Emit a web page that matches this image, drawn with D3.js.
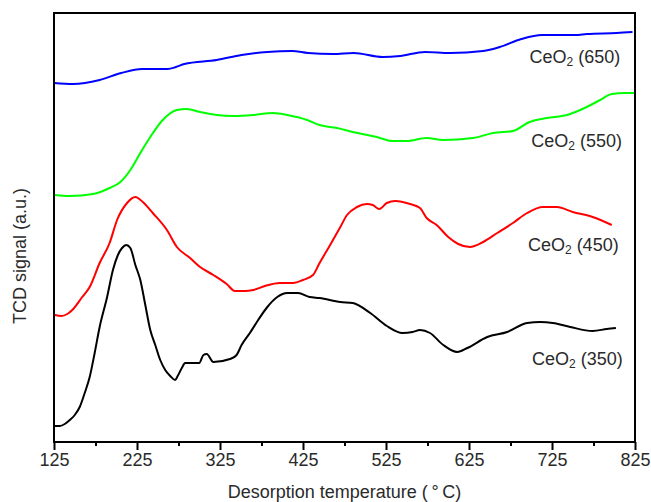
<!DOCTYPE html>
<html>
<head>
<meta charset="utf-8">
<script src="https://cdn.jsdelivr.net/npm/d3@7"></script>
<style>
  html, body { margin: 0; padding: 0; background: #fff; }
  svg { display: block; font-family: "Liberation Sans", Arial, sans-serif; }
</style>
</head>
<body>
<svg id="chart" width="651" height="502"></svg>
<script>
// TPD profiles: [temperature (°C), TCD signal (a.u.)]
const ceo2_350 = [
  [126,16],[132,16],[138,18],[144,22],[150,27],[156,35],[162,49],[168,65],[174,89],
  [180,115],[189,145],[196,172],[202,187],[207,194],[212,197],[217,194],[223,177],
  [229,162],[235,137],[241,112],[247,97],[253,82],[259,72],[265,66],[271,62],[274,66],
  [279,74],[283,79],[300,79],[305,87],[309,88],[317,80],[337,83],[345,87],
  [351,97],[361,109],[371,122],[382,135],[394,145],[406,149],[419,149],[433,145],
  [445,144],[470,140],[485,139],[506,129],[526,116],[545,109],[557,110],[566,112],
  [578,109],[594,97],[611,90],[623,94],[647,105],[671,110],[695,119],[711,120],
  [726,119],[747,115],[774,111],[791,113],[802,114]
];
const ceo2_450 = [
  [126,127],[134,126],[141,128],[147,132],[159,145],[168,155],[180,179],[192,199],[201,222],
  [213,239],[223,245],[232,240],[244,229],[261,212],[273,195],[289,184],[301,175],
  [317,167],[333,158],[343,151],[355,151],[365,152],[379,156],[397,159],[413,159],
  [425,162],[437,167],[445,179],[457,196],[470,215],[478,227],[490,235],[502,238],
  [509,237],[517,233],[526,239],[536,241],[554,238],[566,234],[574,224],[586,217],
  [600,205],[612,198],[626,195],[642,200],[659,209],[678,219],[695,229],[714,235],
  [731,235],[750,230],[774,225],[797,217]
];
const ceo2_550 = [
  [126,247],[144,246],[172,248],[192,254],[205,260],[217,272],[229,289],[241,305],
  [256,322],[273,332],[285,333],[301,330],[321,327],[341,326],[365,327],[389,329],
  [406,327],[430,322],[445,317],[466,314],[485,310],[514,305],[533,301],[550,301],
  [574,304],[594,302],[630,304],[654,309],[678,311],[698,320],[719,324],[743,327],
  [759,332],[783,342],[797,348],[813,349],[826,349]
];
const ceo2_650 = [
  [125,359],[148,358],[180,362],[206,369],[231,373],[262,373],[272,375],[282,378],[321,382],
  [351,387],[382,390],[412,391],[431,389],[461,388],[486,389],[521,385],[542,386],
  [572,390],[602,389],[642,391],[662,395],[688,403],[713,407],[753,407],[767,408],
  [803,409],[822,410]
];

const seriesNames = ["350", "450", "550", "650"];
const seriesData = [ceo2_350, ceo2_450, ceo2_550, ceo2_650];
const seriesColors = ["#000000", "#ff0000", "#00ff00", "#0000ff"];
// label anchor for each curve: [temperature, signal]
const labelAnchors = [[701, 77], [696, 191], [700, 295], [698, 379]];

const majorTicks = [125, 225, 325, 425, 525, 625, 725, 825];
const minorTicks = [175, 275, 375, 475, 575, 675, 775];

const margin = { left: 54, right: 16, top: 13, bottom: 60 };
const W = 651, H = 502;
const svg = d3.select("#chart");

const x = d3.scaleLinear().domain([125, 825]).range([margin.left, W - margin.right]);
const y = d3.scaleLinear().domain([0, 429]).range([H - margin.bottom, margin.top]);

const textColor = "#2a2a2a";
const fontSize = "18px";

// minor ticks
svg.append("g")
  .attr("transform", `translate(0,${H - margin.bottom})`)
  .call(d3.axisBottom(x).tickValues(minorTicks).tickSize(4).tickFormat(""))
  .call(g => g.select(".domain").remove())
  .call(g => g.selectAll("line").attr("stroke", "#000").attr("stroke-width", 2));

// major ticks with labels
svg.append("g")
  .attr("transform", `translate(0,${H - margin.bottom})`)
  .call(d3.axisBottom(x).tickValues(majorTicks).tickSize(8).tickPadding(3).tickFormat(d3.format("d")))
  .call(g => g.select(".domain").remove())
  .call(g => g.selectAll("line").attr("stroke", "#000").attr("stroke-width", 2))
  .call(g => g.selectAll("text")
    .attr("fill", textColor)
    .style("font-size", fontSize)
    .style("font-family", "'Liberation Sans', Arial, sans-serif"));

// curves
const line = d3.line().curve(d3.curveMonotoneX).x(d => x(d[0])).y(d => y(d[1]));
svg.append("g")
  .selectAll("path")
  .data(seriesData)
  .join("path")
  .attr("d", line)
  .attr("fill", "none")
  .attr("stroke", (d, i) => seriesColors[i])
  .attr("stroke-width", 2)
  .attr("stroke-linejoin", "round");

// plot frame
svg.append("rect")
  .attr("x", margin.left)
  .attr("y", margin.top)
  .attr("width", W - margin.right - margin.left)
  .attr("height", H - margin.bottom - margin.top)
  .attr("fill", "none")
  .attr("stroke", "#000")
  .attr("stroke-width", 2);

// series labels
const labels = svg.append("g")
  .selectAll("text")
  .data(seriesNames)
  .join("text")
  .attr("x", (d, i) => x(labelAnchors[i][0]))
  .attr("y", (d, i) => y(labelAnchors[i][1]))
  .attr("fill", textColor)
  .style("font-size", "18px");
labels.append("tspan").text("CeO");
labels.append("tspan").attr("dy", 3).style("font-size", "12px").text("2");
labels.append("tspan").attr("dy", -3).text(d => ` (${d})`);

// axis titles
svg.append("text")
  .attr("x", (margin.left + W - margin.right) / 2)
  .attr("y", 498)
  .attr("text-anchor", "middle")
  .attr("fill", textColor)
  .style("font-size", fontSize)
  .text("Desorption temperature (\u2009\u00b0\u2009C)");

svg.append("text")
  .attr("transform", `translate(26,${256}) rotate(-90)`)
  .attr("text-anchor", "middle")
  .attr("fill", textColor)
  .style("font-size", fontSize)
  .text("TCD signal (a.u.)");
</script>
</body>
</html>
